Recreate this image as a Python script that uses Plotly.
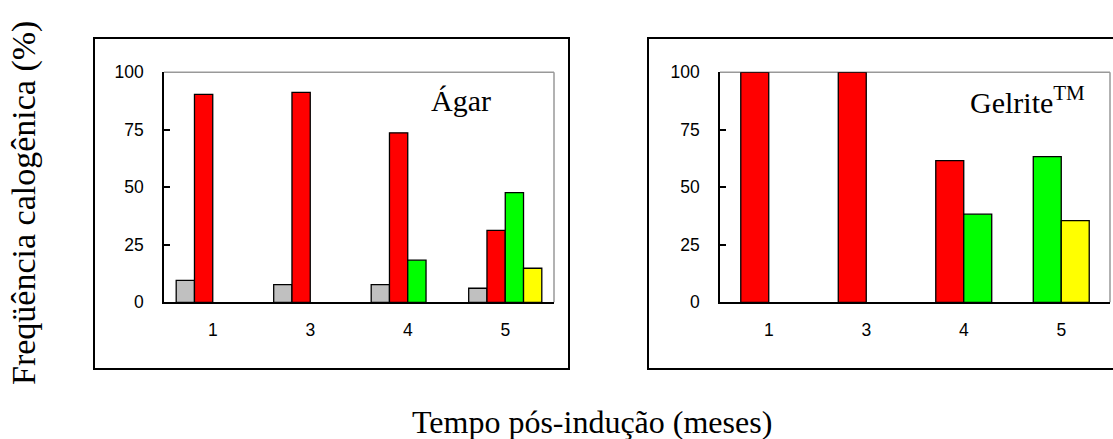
import plotly.graph_objects as go

# ---- data ----
categories = ["1", "3", "4", "5"]
series_names = ["cinza", "vermelho", "verde", "amarelo"]

agar_gray = [9.5, 7.7, 7.7, 6.1]
agar_red = [90.4, 91.3, 73.7, 31.3]
agar_green = [0, 0, 18.3, 47.7]
agar_yellow = [0, 0, 0, 14.8]

gel_gray = [0, 0, 0, 0]
gel_red = [100, 100, 61.6, 0]
gel_green = [0, 0, 38.3, 63.3]
gel_yellow = [0, 0, 0, 35.5]

y_ticks = [0, 25, 50, 75, 100]
panel_labels = ["Ágar", "Gelrite<sup>TM</sup>"]
y_title = "Freqüência calogênica (%)"
x_title = "Tempo pós-indução (meses)"

# ---- styles ----
colors = ["#C0C0C0", "#FF0000", "#00FF00", "#FFFF00"]
W, H = 1113, 439
serif = "Liberation Serif, Times New Roman, serif"
sans = "Liberation Sans, Arial, sans-serif"


def px_x(v):
    return v / W


def px_y(v):
    return 1 - v / H


fig = go.Figure()

# Left panel: fixed 4-slot grouping
agar = [agar_gray, agar_red, agar_green, agar_yellow]
w_left = 0.1875
for i, vals in enumerate(agar):
    xs, ys = [], []
    for c, v in enumerate(vals):
        if v:
            xs.append(c)
            ys.append(v)
    fig.add_trace(go.Bar(
        x=xs, y=ys, width=w_left, offset=-2 * w_left + i * w_left,
        marker=dict(color=colors[i], line=dict(color="black", width=1.3)),
        name=series_names[i], showlegend=False, xaxis="x", yaxis="y",
    ))

# Right panel: non-zero bars placed in consecutive slots starting left of centre
gel = [gel_gray, gel_red, gel_green, gel_yellow]
w_right = 0.287
placements = [[] for _ in gel]
for c in range(len(categories)):
    s = 0
    for i, vals in enumerate(gel):
        if vals[c]:
            placements[i].append((c, vals[c], -w_right + s * w_right))
            s += 1
for i, pl in enumerate(placements):
    if not pl:
        continue
    fig.add_trace(go.Bar(
        x=[p[0] for p in pl], y=[p[1] for p in pl],
        width=w_right, offset=[p[2] for p in pl],
        marker=dict(color=colors[i], line=dict(color="black", width=1.3)),
        name=series_names[i], showlegend=False, xaxis="x2", yaxis="y2",
    ))

xdom_l = [px_x(164), px_x(554)]
xdom_r = [px_x(720), px_x(1110)]
ydom = [px_y(302.3), px_y(72.3)]

xaxis_common = dict(
    range=[-0.5, 3.5], tickmode="array", tickvals=list(range(len(categories))),
    ticktext=categories, showline=True, linecolor="black", linewidth=1.5,
    ticks="", showgrid=False, zeroline=False, fixedrange=True, automargin=False,
    tickfont=dict(family=sans, size=17.5, color="black"), ticklabelstandoff=11,
)
yaxis_common = dict(
    range=[0, 100], tickmode="array", tickvals=y_ticks,
    showline=True, linecolor="black", linewidth=1.5,
    ticks="inside", ticklen=6, tickcolor="black", tickwidth=1.5,
    showgrid=False, zeroline=False, fixedrange=True, automargin=False,
    tickfont=dict(family=sans, size=17.5, color="black"), ticklabelstandoff=15,
)

shapes = []
for xr, yr in [("x domain", "y domain"), ("x2 domain", "y2 domain")]:
    shapes.append(dict(type="line", xref=xr, yref=yr, x0=0, x1=1, y0=1, y1=1,
                       line=dict(color="#999999", width=1.5), layer="below"))
    shapes.append(dict(type="line", xref=xr, yref=yr, x0=1, x1=1, y0=0, y1=1,
                       line=dict(color="#999999", width=1.5), layer="below"))
# outer frames
shapes.append(dict(type="rect", xref="paper", yref="paper",
                   x0=px_x(94), x1=px_x(569), y0=px_y(369), y1=px_y(38),
                   line=dict(color="black", width=2)))
shapes.append(dict(type="rect", xref="paper", yref="paper",
                   x0=px_x(648), x1=px_x(1125), y0=px_y(369), y1=px_y(38),
                   line=dict(color="black", width=2)))

annotations = [
    dict(text=panel_labels[0], xref="paper", yref="paper", x=px_x(461), y=px_y(100.5),
         xanchor="center", yanchor="middle", showarrow=False,
         font=dict(family=serif, size=30, color="black")),
    dict(text=panel_labels[1], xref="paper", yref="paper", x=px_x(968), y=px_y(100.5),
         xanchor="left", yanchor="middle", showarrow=False,
         font=dict(family=serif, size=30, color="black")),
    dict(text=y_title, xref="paper", yref="paper", x=px_x(24), y=px_y(203),
         xanchor="center", yanchor="middle", textangle=-90, showarrow=False,
         font=dict(family=serif, size=34, color="black")),
    dict(text=x_title, xref="paper", yref="paper", x=px_x(592), y=px_y(421.5),
         xanchor="center", yanchor="middle", showarrow=False,
         font=dict(family=serif, size=32, color="black")),
]

fig.update_layout(
    width=W, height=H, margin=dict(l=0, r=0, t=0, b=0, pad=0, autoexpand=False),
    autosize=False,
    paper_bgcolor="white", plot_bgcolor="white",
    barmode="overlay", showlegend=False,
    xaxis=dict(domain=xdom_l, anchor="y", **xaxis_common),
    yaxis=dict(domain=ydom, anchor="x", **yaxis_common),
    xaxis2=dict(domain=xdom_r, anchor="y2", **xaxis_common),
    yaxis2=dict(domain=ydom, anchor="x2", **yaxis_common),
    shapes=shapes, annotations=annotations,
)

fig.write_html(
    "out.html",
    config={"responsive": False, "displayModeBar": False},
    post_script="document.body.style.margin='0';document.body.style.overflow='hidden';",
)
